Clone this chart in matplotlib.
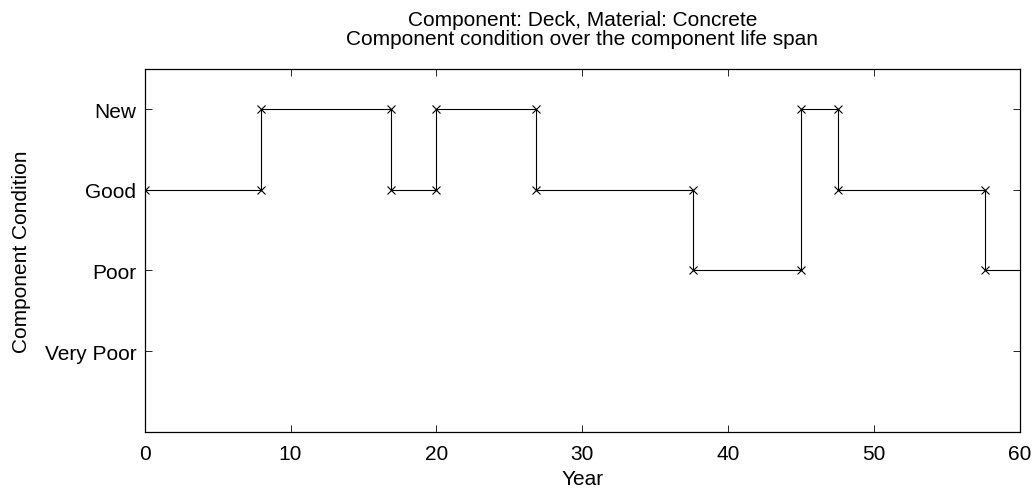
import matplotlib
matplotlib.use('Agg')
import matplotlib.pyplot as plt

# condition history (1 = Very Poor ... 4 = New)
years = [0, 8, 8, 16.9, 16.9, 20, 20, 26.8, 26.8, 37.6, 37.6, 45, 45, 47.5, 47.5, 57.6, 57.6, 60]
condition = [3, 3, 4, 4, 3, 3, 4, 4, 3, 3, 2, 2, 4, 4, 3, 3, 2, 2]
level_ticks = [1, 2, 3, 4]
level_labels = ['Very Poor', 'Poor', 'Good', 'New']
year_ticks = [0, 10, 20, 30, 40, 50, 60]

plt.rcParams['font.family'] = ['Liberation Sans', 'DejaVu Sans']
plt.rcParams['font.size'] = 15

fig = plt.figure(figsize=(10.33, 4.89), dpi=100)
ax = fig.add_axes([0.14, 0.1151, 0.8474, 0.7418])

# markers on every corner, the last segment runs on to the edge
ax.plot(years[:-1], condition[:-1], color='black', lw=0.8, marker='x', markersize=6, mew=0.8)
ax.plot(years[-2:], condition[-2:], color='black', lw=0.8)

ax.set_xlim(0, 60)
ax.set_ylim(0, 4.5)
ax.set_xticks(year_ticks)
ax.set_yticks(level_ticks)
ax.set_yticklabels(level_labels)
ax.tick_params(direction='in', top=True, right=True, length=5, width=0.6)
ax.tick_params(axis='y', pad=6)
ax.tick_params(axis='x', pad=9)
for s in ax.spines.values():
    s.set_linewidth(0.9)

ax.set_xlabel('Year', labelpad=4)
ax.set_ylabel('Component Condition', labelpad=10)
ax.set_title('Component: Deck, Material: Concrete\nComponent condition over the component life span',
             fontsize=15, pad=18, linespacing=1.0)

fig.savefig('out.png', dpi=100)
